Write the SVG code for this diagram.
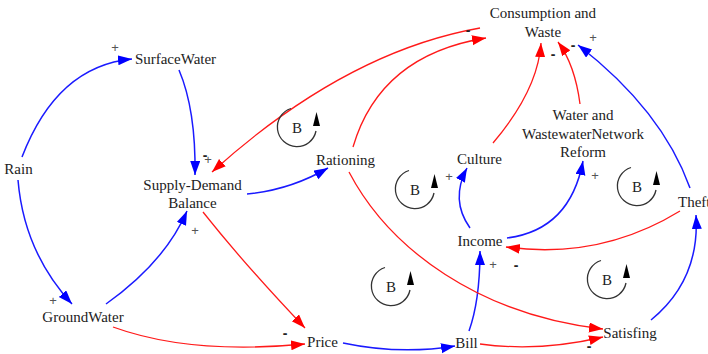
<svg xmlns="http://www.w3.org/2000/svg" xmlns:xlink="http://www.w3.org/1999/xlink" width="708" height="354" viewBox="0 0 708 354">
<style>
.n{font-size:15px;fill:#222;text-anchor:middle}
.lb{font-size:15px;fill:#222;text-anchor:middle}
.p{font-size:13px;fill:#555;text-anchor:middle}
.m{font-size:14px;fill:#222;text-anchor:middle;font-weight:bold}
.b{fill:none;stroke:#1a1aff;stroke-width:1.5;marker-end:url(#ab)}
.r{fill:none;stroke:#ff1a1a;stroke-width:1.3;marker-end:url(#ar)}
</style>
<defs>
<marker id="ab" markerUnits="userSpaceOnUse" markerWidth="16" markerHeight="12" refX="14" refY="5" orient="auto"><path d="M0,0 L14,5 L0,10 z" fill="#0000ff"/></marker>
<marker id="ar" markerUnits="userSpaceOnUse" markerWidth="16" markerHeight="12" refX="14" refY="5" orient="auto"><path d="M0,0 L14,5 L0,10 z" fill="#ff0000"/></marker>
<g id="loop">
<path d="M-6,-18.5 A19.5,19.5 0 1 0 19,4" fill="none" stroke="#333" stroke-width="1.3"/>
<path d="M19.5,-15 L23,-1 L16,-1 z" fill="#000"/>
<text x="0" y="5.5" class="lb" font-family="Liberation Serif, Times New Roman, serif">B</text>
</g>
</defs>
<rect width="708" height="354" fill="#fff"/>
<g id="connectors">
<path class="b" d="M22,157 Q57,66 132,59"/>
<path class="b" d="M18,180 Q24,252 72,304"/>
<path class="b" d="M179,70 Q196,110 195,175"/>
<path class="r" d="M480,28 Q345,52 212,172"/>
<path class="b" d="M106,304 Q165,262 187,211"/>
<path class="b" d="M247,194 Q290,190 328,168"/>
<path class="r" d="M203,212 Q245,265 305,328"/>
<path class="r" d="M113,327 Q190,355 305,344"/>
<path class="r" d="M353,147 Q380,55 486,38"/>
<path class="b" d="M343,343 Q400,355 455,346"/>
<path class="b" d="M469,331 Q480,300 480,251"/>
<path class="r" d="M480,344 Q540,352 603,337"/>
<path class="r" d="M349,172 C390,250 480,315 603,329"/>
<path class="b" d="M470,228 Q450,200 467,168"/>
<path class="b" d="M507,238 Q570,230 583,161"/>
<path class="r" d="M493,143 Q538,90 541,43"/>
<path class="r" d="M580,104 Q575,65 558,42"/>
<path class="b" d="M690,188 Q662,110 578,45"/>
<path class="r" d="M680,211 Q600,260 506,247"/>
<path class="b" d="M651,320 Q700,280 696,215"/>
</g>
<g id="labels" font-family="Liberation Sans, Arial, sans-serif">
<text class="p" x="115" y="52">+</text>
<text class="p" x="53" y="305">+</text>
<text class="p" x="208" y="164">+</text>
<text class="m" x="205" y="160">-</text>
<text class="p" x="195" y="235">+</text>
<text class="m" x="468" y="35">-</text>
<text class="m" x="285" y="338">-</text>
<text class="p" x="493" y="269">+</text>
<text class="m" x="516" y="270">-</text>
<text class="m" x="589" y="351">-</text>
<text class="p" x="449" y="181">+</text>
<text class="p" x="595" y="180">+</text>
<text class="m" x="553" y="59">-</text>
<text class="m" x="573" y="50">-</text>
<text class="p" x="593" y="42">+</text>
</g>
<g id="loops">
<use xlink:href="#loop" x="297" y="127"/>
<use xlink:href="#loop" x="415" y="189"/>
<use xlink:href="#loop" x="637" y="186"/>
<use xlink:href="#loop" x="391" y="286"/>
<use xlink:href="#loop" x="607" y="279"/>
</g>
<g id="nodes" font-family="Liberation Serif, Times New Roman, serif">
<g id="consumption"><text class="n" x="543" y="18">Consumption and</text><text class="n" x="543" y="37">Waste</text></g>
<g id="surfacewater"><text class="n" x="175.5" y="64">SurfaceWater</text></g>
<g id="rain"><text class="n" x="18.5" y="174">Rain</text></g>
<g id="supplydemand"><text class="n" x="192.5" y="190">Supply-Demand</text><text class="n" x="192.5" y="208">Balance</text></g>
<g id="groundwater"><text class="n" x="83" y="322">GroundWater</text></g>
<g id="rationing"><text class="n" x="345.5" y="165">Rationing</text></g>
<g id="culture"><text class="n" x="479.5" y="164">Culture</text></g>
<g id="reform"><text class="n" x="583" y="120">Water and</text><text class="n" x="583" y="139">WastewaterNetwork</text><text class="n" x="583" y="157">Reform</text></g>
<g id="income"><text class="n" x="480" y="246">Income</text></g>
<g id="theft"><text class="n" x="678" y="207" style="text-anchor:start">Theft</text></g>
<g id="price"><text class="n" x="322.5" y="347">Price</text></g>
<g id="bill"><text class="n" x="466.5" y="348">Bill</text></g>
<g id="satisfing"><text class="n" x="630" y="338">Satisfing</text></g>
</g>
</svg>
